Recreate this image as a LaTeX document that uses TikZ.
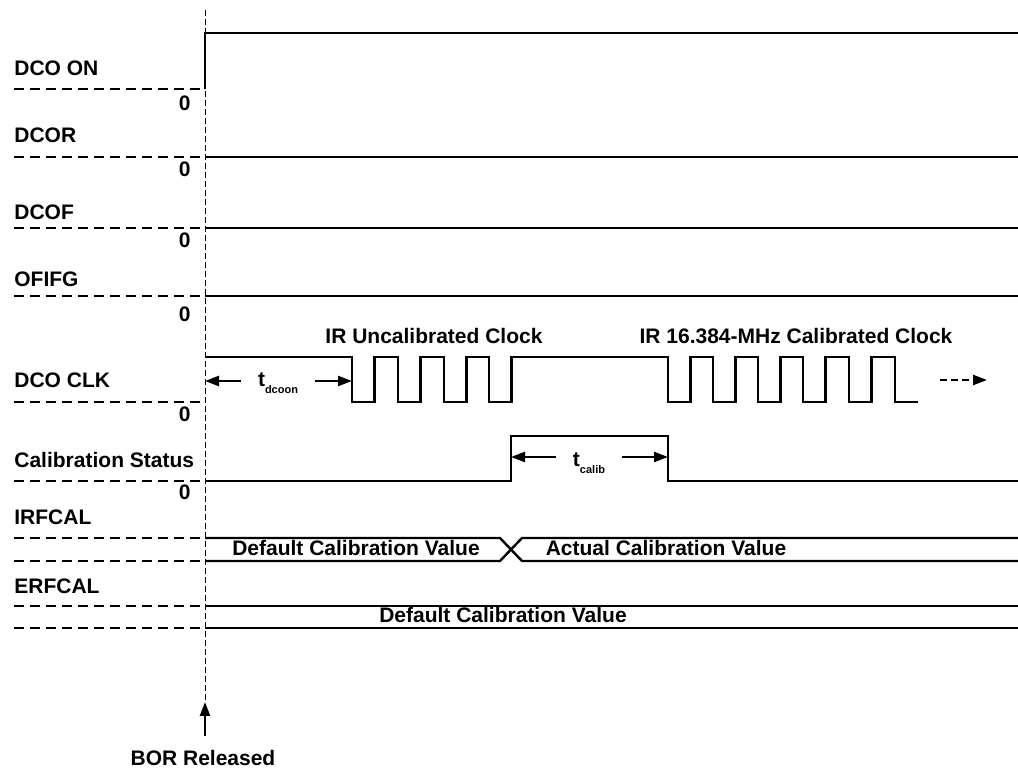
\documentclass[tikz,border=0pt]{standalone}
\usepackage{fontspec}
\setmainfont{Liberation Sans}
\usetikzlibrary{arrows.meta,positioning}
\newcommand{\tsub}[1]{t\raisebox{-3.5pt}{\fontsize{5.5}{6}\selectfont #1}}

\begin{document}
\begin{tikzpicture}[x=0.5pt, y=-0.5pt, font=\fontsize{10.5}{12}\selectfont\bfseries,
  sig/.style={line width=1.2pt},
  idle/.style={line width=1.2pt, dash pattern=on 5pt off 3pt},
  guide/.style={line width=0.5pt, dash pattern=on 3pt off 1.5pt},
  lbl/.style={anchor=base west, inner sep=0pt},
  zero/.style={anchor=base east, inner sep=0pt},
  txt/.style={anchor=base, inner sep=0pt},
  tlab/.style={anchor=base, inner xsep=8.5pt, inner ysep=0pt},
  dim/.style={line width=1.2pt, -{Triangle[length=7pt,width=5pt]}}]
\useasboundingbox (0,0) rectangle (1018,769);
% release edge and right end of every trace
\def\xr{205}
\def\xe{1018}
% ---------------- signal names and zero levels ----------------
\node[lbl] (dcoon)  at (14,76)  {DCO ON};
\node[lbl] (dcor)   at (14,143) {DCOR};
\node[lbl] (dcof)   at (14,220) {DCOF};
\node[lbl] (ofifg)  at (14,287) {OFIFG};
\node[lbl] (dcoclk) at (14,388) {DCO CLK};
\node[lbl] (calst)  at (14,468) {Calibration Status};
\node[lbl] (irfcal) at (14,525) {IRFCAL};
\node[lbl] (erfcal) at (14,594) {ERFCAL};
\foreach \y [count=\i] in {111,177,248,322,422,500}
  \node[zero] (zero\i) at (191,\y) {0};
% ---------------- flat traces ----------------
\draw[idle] (14,89) -- (\xr,89);
\draw[sig] (\xr,89) -- (\xr,33) -- (\xe,33);
\foreach \y in {157,228,296} {
  \draw[idle] (14,\y) -- (\xr,\y);
  \draw[sig] (\xr,\y) -- (\xe,\y);
}
% ---------------- DCO CLK ----------------
\draw[idle] (14,402) -- (\xr,402);
\draw[sig] (\xr,357)
  foreach \x in {352,398,444,489} { -- (\x,357) -- (\x,402) -- (\x+22.5,402) -- (\x+22.5,357) }
  foreach \x in {668,713,758,803,849} { -- (\x,357) -- (\x,402) -- (\x+22.5,402) -- (\x+22.5,357) }
  -- (895,357) -- (895,402) -- (918,402);
\node[txt] (uncal) at (434,344) {IR Uncalibrated Clock};
\node[txt] (cal)   at (796,344) {IR 16.384-MHz Calibrated Clock};
% on-time of the oscillator
\coordinate (dcoonL) at (\xr,381);
\coordinate (dcoonR) at (352,381);
\node[tlab] (tdcoon) at (278,387) {\tsub{dcoon}};
\draw[dim] (tdcoon.west |- dcoonL) -- (dcoonL);
\draw[dim] (tdcoon.east |- dcoonR) -- (dcoonR);
% more clocks follow
\coordinate (moreA) at (940,380);
\coordinate (moreB) at (987,380);
\draw[dim, dash pattern=on 3.5pt off 2pt] (moreA) -- (moreB);
% ---------------- Calibration Status ----------------
\draw[idle] (14,481) -- (\xr,481);
\draw[sig] (\xr,481) -- (511,481) -- (511,436) -- (668,436) -- (668,481) -- (\xe,481);
\coordinate (calibL) at (511,457);
\coordinate (calibR) at (668,457);
\node[tlab] (tcalib) at (589,467) {\tsub{calib}};
\draw[dim] (tcalib.west |- calibL) -- (calibL);
\draw[dim] (tcalib.east |- calibR) -- (calibR);
% ---------------- IRFCAL bus ----------------
\draw[idle] (14,538) -- (\xr,538);
\draw[idle] (14,561) -- (\xr,561);
\draw[sig] (\xr,538) -- (500,538) -- (522,561) -- (\xe,561);
\draw[sig] (\xr,561) -- (500,561) -- (522,538) -- (\xe,538);
\node[txt] (irdef) at (356,556) {Default Calibration Value};
\node[txt] (iract) at (666,556) {Actual Calibration Value};
% ---------------- ERFCAL bus ----------------
\draw[idle] (14,606) -- (\xr,606);
\draw[idle] (14,628) -- (\xr,628);
\draw[sig] (\xr,606) -- (\xe,606);
\draw[sig] (\xr,628) -- (\xe,628);
\node[txt] (erdef) at (503,623) {Default Calibration Value};
% ---------------- BOR release ----------------
\draw[guide] (\xr,10) -- (\xr,702);
\coordinate (borTip) at (\xr,702);
\node[txt, inner ysep=7pt] (bor) at (203,766) {BOR Released};
\draw[dim] (bor.north -| borTip) -- (borTip);
\end{tikzpicture}
\end{document}
